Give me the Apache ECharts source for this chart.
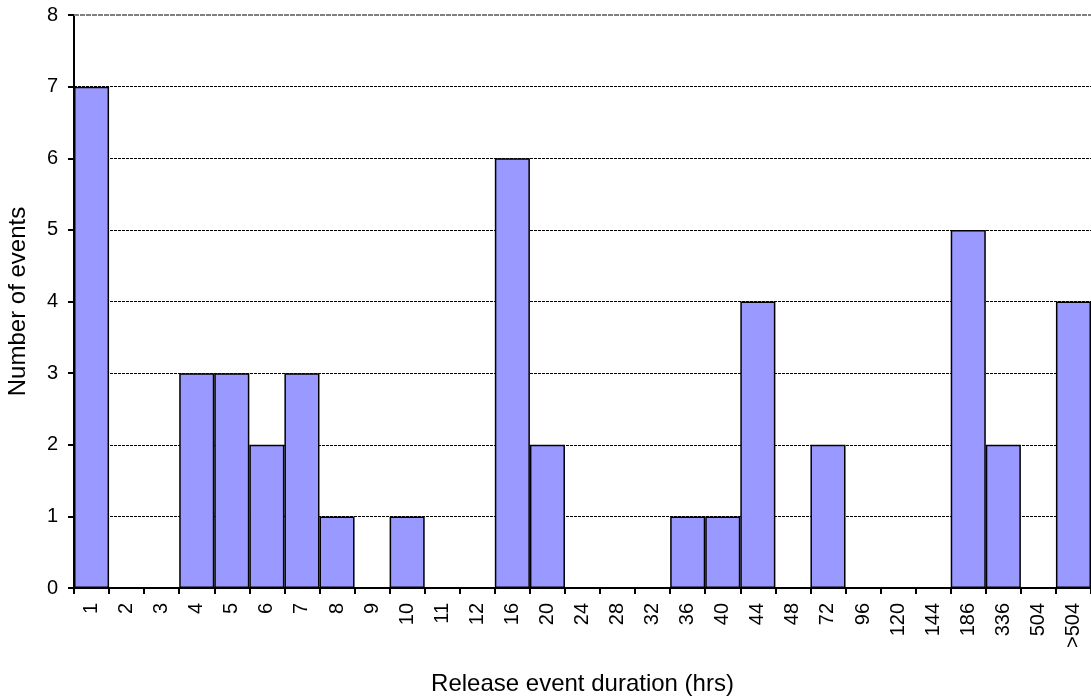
<!DOCTYPE html>
<html><head><meta charset="utf-8">
<script src="https://cdn.jsdelivr.net/npm/echarts@6/dist/echarts.min.js"></script>
<style>html,body{margin:0;padding:0;background:#fff}#c{width:1091px;height:698px}</style>
</head><body><div id="c"></div>
<script>
const categories = ['1','2','3','4','5','6','7','8','9','10','11','12','16','20','24','28','32','36','40','44','48','72','96','120','144','186','336','504','>504'];
const counts = [7,0,0,3,3,2,3,1,0,1,0,0,6,2,0,0,0,1,1,4,0,2,0,0,0,5,2,0,4];
const yTicks = [0,1,2,3,4,5,6,7,8];
const chart = echarts.init(document.getElementById('c'), null, {renderer:'canvas'});
const font = 'Liberation Sans, Arial, sans-serif';
chart.setOption({
  animation:false,
  grid:{left:74, right:0, top:15, bottom:110, containLabel:false, outerBoundsMode:'none'},
  xAxis:{
    type:'category', data:categories,
    name:'Release event duration (hrs)', nameLocation:'middle', nameGap:84,
    nameTextStyle:{fontFamily:font, fontSize:24, color:'#000'},
    axisLine:{lineStyle:{color:'#000', width:2}},
    axisTick:{show:true, length:6, lineStyle:{color:'#000', width:2}, alignWithLabel:false},
    axisLabel:{rotate:90, fontFamily:font, fontSize:20, color:'#000', margin:15, interval:0},
    splitLine:{show:false}
  },
  yAxis:{
    type:'value', min:0, max:8, interval:1,
    name:'Number of events', nameLocation:'middle', nameGap:44,
    nameTextStyle:{fontFamily:font, fontSize:24, color:'#000'},
    axisLine:{show:true, lineStyle:{color:'#000', width:2}},
    axisTick:{show:true, length:6, lineStyle:{color:'#000', width:2}},
    axisLabel:{fontFamily:font, fontSize:20, color:'#000', margin:16,
      formatter:v=>yTicks.includes(v)?String(v):''},
    splitLine:{show:true, lineStyle:{color:['#000','#000','#000','#000','#000','#000','#000','#000','rgba(0,0,0,0)'], width:1, type:[3,1]}}
  },
  series:[{
    type:'bar', data:counts, barCategoryGap:'0%',
    itemStyle:{color:'#9999FF', borderColor:'#000', borderWidth:1.5},
    emphasis:{disabled:true},
    markLine:{silent:true, symbol:'none', label:{show:false},
      lineStyle:{color:'#808080', width:2, type:[5,1]},
      data:[{yAxis:8}]}
  }]
});
</script></body></html>
